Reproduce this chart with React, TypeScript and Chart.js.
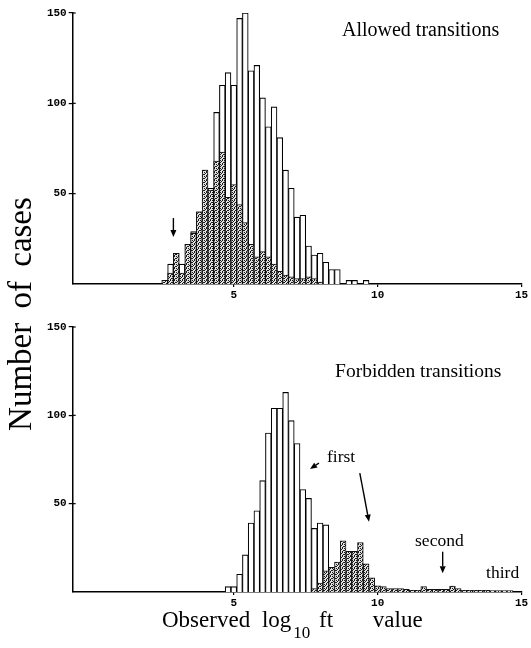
import React, { useEffect, useRef } from "react";
import { Chart, registerables } from "chart.js";

Chart.register(...registerables);

// ---------- data ----------
const xTicks = [5, 10, 15];
const yTicks = [50, 100, 150];

// Allowed transitions (bin centres, log10 ft)
const allowedBins = [2.6, 2.8, 3.0, 3.2, 3.4, 3.6, 3.8, 4.0, 4.2, 4.4, 4.6, 4.8, 5.0, 5.2, 5.4, 5.6, 5.8, 6.0, 6.2, 6.4, 6.6, 6.8, 7.0, 7.2, 7.4, 7.6, 7.8, 8.0, 8.2, 8.4, 8.6, 9.0, 9.2, 9.6];
const allowedAll = [2, 11, 17, 11, 22, 29, 40, 63, 53, 95, 110, 117, 110, 147, 150, 118, 121, 103, 87, 98, 81, 63, 53, 37, 38, 21, 16, 17, 12, 8, 8, 2, 2, 2];
const allowedShaded = [2, 6, 17, 6, 22, 28, 40, 63, 52, 68, 73, 48, 55, 44, 34, 22, 15, 18, 15, 11, 7, 5, 4, 3, 3, 4, 3, 1, 0, 0, 0];

// Forbidden transitions
const firstBins = [4.8, 5.0, 5.2, 5.4, 5.6, 5.8, 6.0, 6.2, 6.4, 6.6, 6.8, 7.0, 7.2, 7.4, 7.6, 7.8, 8.0, 8.2];
const firstCounts = [3, 3, 10, 21, 39, 46, 63, 90, 104, 104, 113, 97, 84, 58, 53, 36, 39, 38];
const uniqueBins = [7.8, 8.0, 8.2, 8.4, 8.6, 8.8, 9.0, 9.2, 9.4, 9.6, 9.8, 10.0, 10.2, 10.4, 10.6, 10.8, 11.0, 11.2, 11.4, 11.6, 11.8, 12.0, 12.2, 12.4, 12.6, 12.8, 13.0, 13.2, 13.4, 13.6, 13.8, 14.0, 14.2, 14.4, 14.6];
const uniqueCounts = [2, 5, 12, 14, 17, 29, 23, 23, 28, 16, 8, 3.5, 3, 2, 2, 2, 1.5, 1, 1, 3, 1.5, 1.5, 1.5, 1.5, 3.3, 2, 1, 1, 1, 1, 1, 0.8, 0.8, 0.8, 0.8];

type Note = { text: string; x: number; y: number; size: number };
type Arrow = { x1: number; y1: number; x2: number; y2: number };

const topNotes: Note[] = [{ text: "Allowed transitions", x: 8.76, y: 137.5, size: 20 }];
const topArrows: Arrow[] = [{ x1: 2.9, y1: 36.5, x2: 2.9, y2: 26 }];
const bottomNotes: Note[] = [
  { text: "Forbidden transitions", x: 8.52, y: 121.7, size: 19.5 },
  { text: "first", x: 8.24, y: 73.7, size: 17.5 },
  { text: "second", x: 11.3, y: 26, size: 17.5 },
  { text: "third", x: 13.77, y: 7.75, size: 17.5 },
];
const bottomArrows: Arrow[] = [
  { x1: 7.96, y1: 73, x2: 7.65, y2: 69.6 },
  { x1: 9.38, y1: 67.3, x2: 9.7, y2: 39.8 },
  { x1: 12.26, y1: 22.8, x2: 12.26, y2: 10.6 },
];

// ---------- helpers ----------
function stipple(): CanvasPattern | string {
  const c = document.createElement("canvas");
  c.width = 4;
  c.height = 4;
  const g = c.getContext("2d");
  if (!g) return "#666";
  g.fillStyle = "#e2e2e2";
  g.fillRect(0, 0, 4, 4);
  g.fillStyle = "#1a1a1a";
  const rows = ["X.X.", ".X..", "X..X", "..X."];
  rows.forEach((row, r) =>
    row.split("").forEach((ch, col) => {
      if (ch === "X") g.fillRect(col, r, 1, 1);
    })
  );
  return g.createPattern(c, "repeat") || "#666";
}

function pts(bins: number[], vals: number[]) {
  return vals.map((v, i) => ({ x: bins[i], y: v })).filter((p) => p.y > 0);
}

function notesPlugin(notes: Note[], arrows: Arrow[]) {
  return {
    id: "notes",
    afterDraw(chart: any) {
      const { ctx, chartArea } = chart;
      const xs = chart.scales.x;
      const ys = chart.scales.y;
      ctx.save();
      ctx.strokeStyle = "#000";
      ctx.fillStyle = "#000";
      ctx.lineWidth = 1.2;
      yTicks.forEach((v) => {
        const py = ys.getPixelForValue(v);
        ctx.beginPath();
        ctx.moveTo(chartArea.left, py);
        ctx.lineTo(chartArea.left + 3, py);
        ctx.stroke();
      });
      ctx.textBaseline = "alphabetic";
      ctx.textAlign = "left";
      notes.forEach((n) => {
        ctx.font = `${n.size}px "Liberation Serif", "DejaVu Serif", serif`;
        ctx.fillText(n.text, xs.getPixelForValue(n.x), ys.getPixelForValue(n.y));
      });
      arrows.forEach((a) => {
        const x1 = xs.getPixelForValue(a.x1);
        const y1 = ys.getPixelForValue(a.y1);
        const x2 = xs.getPixelForValue(a.x2);
        const y2 = ys.getPixelForValue(a.y2);
        const ang = Math.atan2(y2 - y1, x2 - x1);
        const head = 7;
        const hw = 3;
        const bx = x2 - head * Math.cos(ang);
        const by = y2 - head * Math.sin(ang);
        ctx.lineWidth = 1.4;
        ctx.beginPath();
        ctx.moveTo(x1, y1);
        ctx.lineTo(bx, by);
        ctx.stroke();
        ctx.beginPath();
        ctx.moveTo(x2, y2);
        ctx.lineTo(bx + hw * Math.sin(ang), by - hw * Math.cos(ang));
        ctx.lineTo(bx - hw * Math.sin(ang), by + hw * Math.cos(ang));
        ctx.closePath();
        ctx.fill();
      });
      ctx.restore();
    },
  };
}

const tickFont = { family: '"Liberation Mono", "DejaVu Sans Mono", monospace', size: 11, weight: "bold" as const };

function buildConfig(datasets: any[], notes: Note[], arrows: Arrow[], padTop: number, axisH: number): any {
  return {
    type: "bar",
    data: { datasets },
    options: {
      animation: false,
      responsive: false,
      maintainAspectRatio: false,
      events: [],
      layout: { padding: { left: 0, right: 9.5, top: padTop, bottom: 0 } },
      plugins: { legend: { display: false }, tooltip: { enabled: false }, title: { display: false } },
      scales: {
        x: {
          type: "linear",
          min: -0.6,
          max: 15,
          offset: false,
          afterBuildTicks: (s: any) => {
            s.ticks = xTicks.map((v) => ({ value: v }));
          },
          afterFit: (s: any) => {
            s.height = axisH;
          },
          grid: { drawOnChartArea: false, drawTicks: true, tickLength: 3, color: "#000", lineWidth: 1.2, offset: false },
          border: { display: true, color: "#000", width: 1.5 },
          ticks: { font: tickFont, color: "#000", padding: 2, maxRotation: 0, autoSkip: false },
        },
        y: {
          type: "linear",
          min: 0,
          max: 150,
          afterBuildTicks: (s: any) => {
            s.ticks = yTicks.map((v) => ({ value: v }));
          },
          afterFit: (s: any) => {
            s.width = 72.7;
          },
          grid: { drawOnChartArea: false, drawTicks: true, tickLength: 4, color: "#000", lineWidth: 1.2 },
          border: { display: true, color: "#000", width: 1.5 },
          ticks: { font: tickFont, color: "#000", padding: 2 },
        },
      },
    },
    plugins: [notesPlugin(notes, arrows)],
  };
}

const barCommon = {
  grouped: false,
  barPercentage: 1,
  categoryPercentage: 1,
  borderSkipped: "start",
};

function TopPanel() {
  const ref = useRef<HTMLCanvasElement>(null);
  useEffect(() => {
    if (!ref.current) return;
    const pat = stipple();
    const chart = new Chart(
      ref.current,
      buildConfig(
        [
          { ...barCommon, data: pts(allowedBins, allowedShaded), backgroundColor: pat, borderColor: "#111", borderWidth: 1 },
          { ...barCommon, data: pts(allowedBins, allowedAll), backgroundColor: "#fff", borderColor: "#000", borderWidth: 1.1 },
        ],
        topNotes,
        topArrows,
        13,
        16
      )
    );
    return () => chart.destroy();
  }, []);
  return <canvas ref={ref} width={531} height={300} style={{ position: "absolute", left: 0, top: 0, width: 531, height: 300 }} />;
}

function BottomPanel() {
  const ref = useRef<HTMLCanvasElement>(null);
  useEffect(() => {
    if (!ref.current) return;
    const pat = stipple();
    const chart = new Chart(
      ref.current,
      buildConfig(
        [
          { ...barCommon, data: pts(uniqueBins, uniqueCounts), backgroundColor: pat, borderColor: "#111", borderWidth: 1 },
          { ...barCommon, data: pts(firstBins, firstCounts), backgroundColor: "#fff", borderColor: "#000", borderWidth: 1.1 },
        ],
        bottomNotes,
        bottomArrows,
        27,
        56
      )
    );
    return () => chart.destroy();
  }, []);
  return <canvas ref={ref} width={531} height={348} style={{ position: "absolute", left: 0, top: 300, width: 531, height: 348 }} />;
}

export default function App() {
  const serif = '"Liberation Serif", "DejaVu Serif", serif';
  return (
    <div style={{ position: "absolute", left: 0, top: 0, width: 531, height: 648, background: "#fff", overflow: "hidden" }}>
      <TopPanel />
      <BottomPanel />
      <div
        style={{
          position: "absolute",
          left: 20 - 150,
          top: 314 - 20,
          width: 300,
          height: 40,
          lineHeight: "40px",
          textAlign: "center",
          fontFamily: serif,
          fontSize: 33,
          wordSpacing: 6,
          whiteSpace: "nowrap",
          transform: "rotate(-90deg)",
          color: "#000",
        }}
      >
        Number of cases
      </div>
      <div
        style={{
          position: "absolute",
          left: 162,
          top: 608,
          height: 24,
          lineHeight: "24px",
          fontFamily: serif,
          fontSize: 23,
          whiteSpace: "nowrap",
          color: "#000",
        }}
      >
        Observed <span style={{ marginLeft: 6 }}>log</span>
        <span style={{ fontSize: 17, position: "relative", top: 11, marginLeft: 2 }}>10</span>{" "}
        <span style={{ marginLeft: 3 }}>ft</span> <span style={{ marginLeft: 34 }}>value</span>
      </div>
    </div>
  );
}
